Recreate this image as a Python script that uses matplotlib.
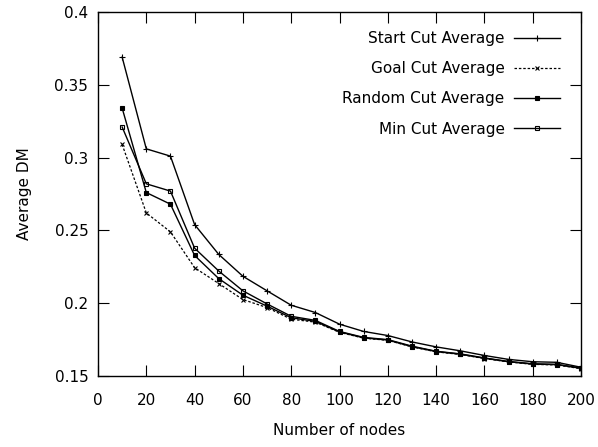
import matplotlib
matplotlib.use("Agg")
import matplotlib.pyplot as plt

nodes = [10, 20, 30, 40, 50, 60, 70, 80, 90, 100, 110, 120, 130, 140, 150, 160, 170, 180, 190, 200]
start_cut = [0.369, 0.306, 0.301, 0.254, 0.2335, 0.2185, 0.2085, 0.1986, 0.1936, 0.1856, 0.1806, 0.1778, 0.1734, 0.1700, 0.1673, 0.1641, 0.1614, 0.1598, 0.1594, 0.1560]
goal_cut = [0.309, 0.262, 0.249, 0.2244, 0.2135, 0.2025, 0.1970, 0.1890, 0.1870, 0.1800, 0.1760, 0.1745, 0.1700, 0.1666, 0.1648, 0.1620, 0.1597, 0.1580, 0.1576, 0.1550]
random_cut = [0.334, 0.276, 0.268, 0.2328, 0.2169, 0.2055, 0.1980, 0.1900, 0.1875, 0.1803, 0.1762, 0.1747, 0.1702, 0.1668, 0.1650, 0.1622, 0.1598, 0.1582, 0.1578, 0.1553]
min_cut = [0.321, 0.282, 0.277, 0.2378, 0.2221, 0.2085, 0.1995, 0.1910, 0.1882, 0.1806, 0.1765, 0.1750, 0.1705, 0.1670, 0.1652, 0.1624, 0.1600, 0.1584, 0.1580, 0.1555]

x_ticks = [0, 20, 40, 60, 80, 100, 120, 140, 160, 180, 200]
y_ticks = [0.15, 0.2, 0.25, 0.3, 0.35, 0.4]
y_tick_labels = ["0.15", "0.2", "0.25", "0.3", "0.35", "0.4"]

plt.rcParams['font.family'] = ['DejaVu Sans']
fig = plt.figure(figsize=(5.98, 4.47), dpi=100)
ax = fig.add_axes([98/598, 1-376/447, (581-98)/598, (376-12)/447])

lw = 1.0
ax.plot(nodes, start_cut, color='black', lw=lw, marker='+', ms=4, mew=0.8, label='Start Cut Average')
ax.plot(nodes, goal_cut, color='black', lw=0.9, ls=(0, (2, 1.5)), marker='x', ms=3.5, mew=0.8, label='Goal Cut Average')
ax.plot(nodes, random_cut, color='black', lw=lw, marker='s', ms=3, mew=0.8, label='Random Cut Average')
ax.plot(nodes, min_cut, color='black', lw=lw, marker='s', ms=3.5, mew=0.8, mfc='none', label='Min Cut Average')

ax.set_xlim(0, 200)
ax.set_ylim(0.15, 0.4)
ax.set_xticks(x_ticks)
ax.set_yticks(y_ticks)
ax.set_yticklabels(y_tick_labels)
ax.tick_params(direction='in', length=8, width=0.8, top=True, right=True, labelsize=11, pad=7, colors='black')
ax.tick_params(axis='x', pad=12)
for s in ax.spines.values():
    s.set_linewidth(1.0)

ax.set_xlabel('Number of nodes', fontsize=11, labelpad=11)
ax.set_ylabel('Average DM', fontsize=11, labelpad=16)

leg = ax.legend(loc='upper right', bbox_to_anchor=(0.981, 0.981), frameon=False, markerfirst=False, fontsize=11,
                handlelength=3.0, labelspacing=0.99, borderaxespad=0.4, handletextpad=0.6)

fig.savefig('out.png', dpi=100)
